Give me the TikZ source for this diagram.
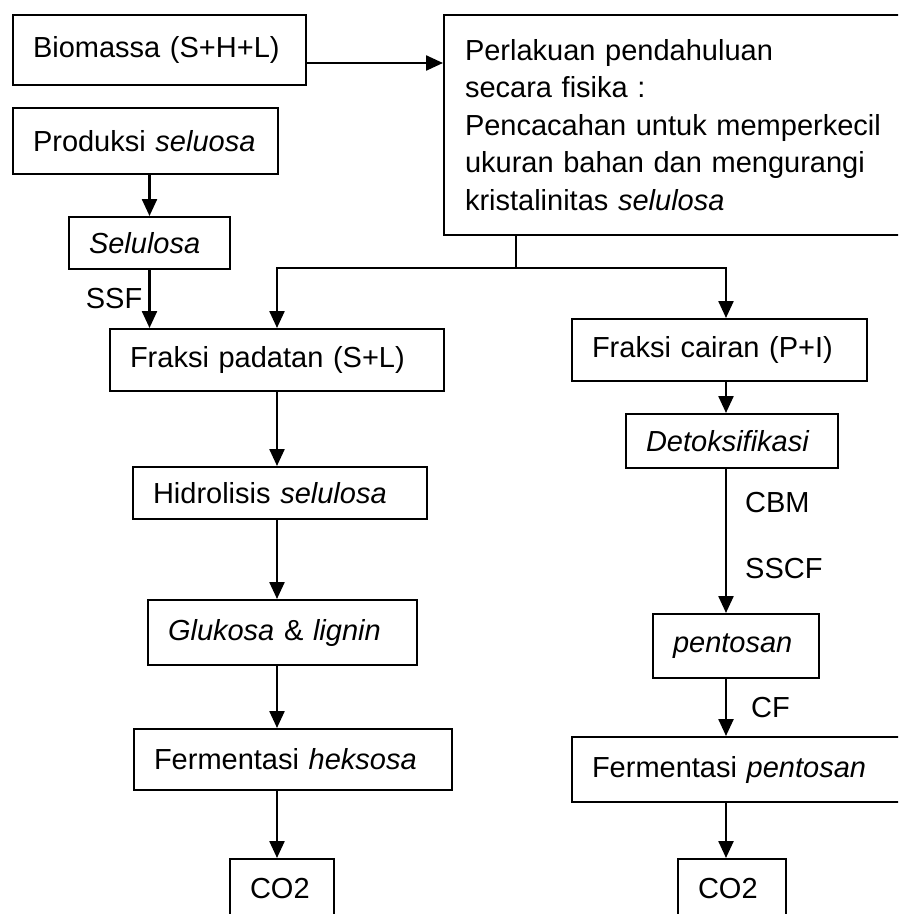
\documentclass[tikz,border=0pt]{standalone}
\usepackage{fontspec}
\setmainfont{Liberation Sans}
\usetikzlibrary{arrows.meta}
\newcommand{\flowfont}{\fontsize{29pt}{37.5pt}\selectfont}

\begin{document}
\begin{tikzpicture}[x=1pt,y=-1pt,
  box/.style={draw,line width=2pt,anchor=north west,align=left,
    inner xsep=20pt,inner ysep=0pt,font=\flowfont},
  arr/.style={-{Triangle[length=17pt,width=15pt]},line width=2.4pt},
  lbl/.style={font=\flowfont,inner sep=0pt}]
  \clip (0,0) rectangle (898,914);
  \node[box,text width=253pt,minimum height=70pt] (bio) at (12,14) {Biomassa (S+H+L)};
  \node[box,text width=430pt,minimum height=220pt,inner xsep=21pt] (perl) at (443,14)
    {Perlakuan pendahuluan\\secara fisika :\\Pencacahan untuk memperkecil\\ukuran bahan dan mengurangi\\kristalinitas \textit{selulosa}};
  \node[box,text width=225pt,minimum height=66pt] (prod) at (12,107) {Produksi \textit{seluosa}};
  \node[box,text width=121pt,minimum height=52pt] (sel) at (68,216) {\textit{Selulosa}};
  \node[box,text width=294pt,minimum height=62pt] (padat) at (109,328) {Fraksi padatan (S+L)};
  \node[box,text width=254pt,minimum height=52pt] (hidro) at (132,466) {Hidrolisis \textit{selulosa}};
  \node[box,text width=229pt,minimum height=65pt] (gluk) at (147,599) {\textit{Glukosa} \& \textit{lignin}};
  \node[box,text width=278pt,minimum height=61pt] (fheks) at (133,728) {Fermentasi \textit{heksosa}};
  \node[box,text width=64pt,minimum height=60pt] (co2a) at (229,858) {CO2};
  \node[box,text width=255pt,minimum height=62pt] (cair) at (571,318) {Fraksi cairan (P+I)};
  \node[box,text width=172pt,minimum height=54pt] (detoks) at (625,413) {\textit{Detoksifikasi}};
  \node[box,text width=126pt,minimum height=64pt] (pent) at (652,613) {\textit{pentosan}};
  \node[box,text width=330pt,minimum height=65pt] (fpent) at (571,736) {Fermentasi \textit{pentosan}};
  \node[box,text width=68pt,minimum height=60pt] (co2b) at (677,858) {CO2};

  \coordinate (lcol) at (277,0);
  \coordinate (rcol) at (726,0);
  \coordinate (fork) at (516,268);

  \draw[arr] ([yshift=-13pt]bio.east) -- ([yshift=-13pt]bio.east -| perl.west);
  \draw[arr] (sel.north |- prod.south) -- (sel.north);
  \draw[arr] (sel.south) -- (sel.south |- padat.north) node[lbl,midway,left=6pt] {SSF};
  \draw[line width=2.4pt] (fork |- perl.south) -- (fork);
  \draw[arr] (fork) -| (padat.north);
  \draw[arr] (fork) -| (rcol |- cair.north);
  \draw[arr] (lcol |- padat.south) -- (lcol |- hidro.north);
  \draw[arr] (lcol |- hidro.south) -- (lcol |- gluk.north);
  \draw[arr] (lcol |- gluk.south) -- (lcol |- fheks.north);
  \draw[arr] (lcol |- fheks.south) -- (lcol |- co2a.north);
  \draw[arr] (rcol |- cair.south) -- (rcol |- detoks.north);
  \draw[arr] (rcol |- detoks.south) -- (rcol |- pent.north)
    node[lbl,pos=0.23,right=18pt] {CBM}
    node[lbl,pos=0.69,right=18pt] {SSCF};
  \draw[arr] (rcol |- pent.south) -- (rcol |- fpent.north) node[lbl,midway,right=24pt] {CF};
  \draw[arr] (rcol |- fpent.south) -- (rcol |- co2b.north);
\end{tikzpicture}
\end{document}
